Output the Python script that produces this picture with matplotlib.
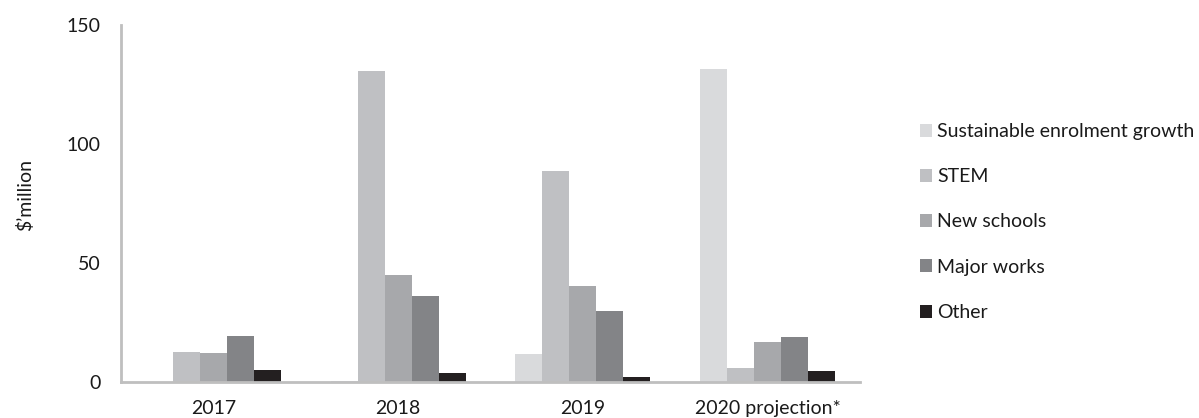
import numpy as np
import matplotlib
matplotlib.use("Agg")
import matplotlib.pyplot as plt
from matplotlib.patches import Patch

plt.rcParams['font.family'] = ['Lato', 'DejaVu Sans']

categories = ["2017", "2018", "2019", "2020 projection*"]
series_names = ["Sustainable enrolment growth", "STEM", "New schools", "Major works", "Other"]
sustainable_growth = [0.0, 0.4, 11.6, 131.5]
stem = [12.7, 130.7, 88.7, 6.0]
new_schools = [12.3, 45.0, 40.5, 16.7]
major_works = [19.3, 36.1, 29.8, 19.0]
other = [5.0, 3.7, 2.2, 4.7]
y_ticks = [0, 50, 100, 150]

series_values = [sustainable_growth, stem, new_schools, major_works, other]
colors = ["#d9dadc", "#bfc0c3", "#a7a8ab", "#838487", "#231f20"]
text_color = "#1a1a1a"
fs = 14

fig = plt.figure(figsize=(11.99, 4.18), dpi=100)
ax = fig.add_axes([121 / 1199, 1 - 382 / 418, (860 - 121) / 1199, (382 - 25) / 418])

x = np.arange(len(categories))
width = 0.146
for i, (vals, col) in enumerate(zip(series_values, colors)):
    ax.bar(x + (i - 2) * width, vals, width, color=col, linewidth=0)

ax.set_xlim(-0.5, len(categories) - 0.5)
ax.set_ylim(0, 150)
ax.set_yticks(y_ticks)
ax.set_xticks(x)
ax.set_xticklabels(categories, fontsize=fs, color=text_color)
ax.tick_params(axis="y", length=0, pad=14.5, labelsize=fs, labelcolor=text_color)
ax.tick_params(axis="x", length=0, pad=13)

for s in ["top", "right"]:
    ax.spines[s].set_visible(False)
for s in ["left", "bottom"]:
    ax.spines[s].set_color("#bfbfbf")
    ax.spines[s].set_linewidth(2)

fig.text(25 / 1199, 1 - 195 / 418, "$\u2019million", rotation=90, ha="center", va="center",
         fontsize=fs, color=text_color)

handles = [Patch(facecolor=c, edgecolor="none") for c in colors]
leg = fig.legend(handles, series_names, loc="center left",
                 bbox_to_anchor=(912 / 1199, 1 - 222 / 418), frameon=False,
                 fontsize=fs, handlelength=0.65, handleheight=0.65, handletextpad=0.25,
                 labelspacing=1.45, borderaxespad=0)
for t in leg.get_texts():
    t.set_color(text_color)

fig.savefig("out.png", dpi=100)
